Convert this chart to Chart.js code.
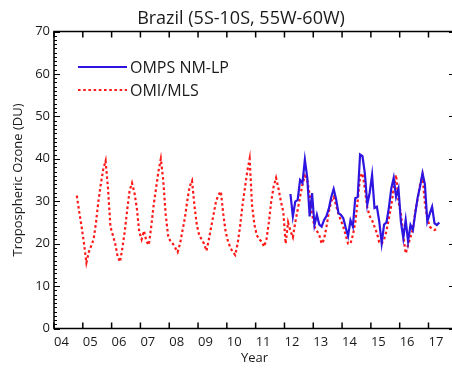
<!DOCTYPE html>
<html lang="en">
<head>
<meta charset="UTF-8">
<title>Brazil tropospheric ozone</title>
<script src="https://cdn.jsdelivr.net/npm/chart.js"></script>
<style>
  html, body { margin: 0; padding: 0; background: #fff; overflow: hidden; }
  #wrap { width: 458px; height: 370px; }
</style>
</head>
<body>
<div id="wrap"><canvas id="ozoneChart" width="458" height="370"></canvas></div>
<script>
const chartTitle = 'Brazil (5S-10S, 55W-60W)';
const yearTicks = [2004, 2005, 2006, 2007, 2008, 2009, 2010, 2011, 2012, 2013, 2014, 2015, 2016, 2017];
const yearLabels = ['04', '05', '06', '07', '08', '09', '10', '11', '12', '13', '14', '15', '16', '17'];

// OMI/MLS monthly means, Oct 2004 .. Apr 2017 (DU)
const mls2004 = [31.3, 27.5, 24];
const mls2005 = [20, 15.5, 18, 19.5, 21, 25, 30, 34, 37.5, 39.5, 33, 24];
const mls2006 = [22, 20, 17, 15.7, 19, 23, 28, 32.5, 34.3, 32, 28.4, 22.8];
const mls2007 = [21, 23, 20.5, 19.7, 24, 29, 33, 37, 40, 35, 27, 22];
const mls2008 = [20.5, 20, 19, 18, 20, 23, 26, 30, 33.5, 34.8, 29, 24.4];
const mls2009 = [22, 21, 20, 18.3, 21, 24, 27, 30, 31.5, 32.3, 27, 22.8];
const mls2010 = [20.5, 19, 18, 17.3, 20, 24, 29, 33, 37, 40, 29, 24.4];
const mls2011 = [22, 21, 20.5, 19.3, 21, 25, 30, 33.5, 35.5, 33, 30, 27.6];
const mls2012 = [20, 25, 23, 21.5, 25, 28, 31, 34, 36, 35, 31.5, 27];
const mls2013 = [24, 23, 22, 20, 21, 24, 27.5, 30, 31, 29, 27, 25.5];
const mls2014 = [24, 22, 20, 20, 22, 25, 30, 35.8, 36.6, 33, 28.5, 26.5];
const mls2015 = [25.5, 24, 22.5, 20.3, 20, 21, 23, 26, 29, 33, 36.2, 30];
const mls2016 = [27, 22, 17.7, 19.7, 21.5, 23.5, 27.6, 30.7, 34, 36, 29.5, 26];
const mls2017 = [24, 23.5, 23.2, 23.5];

// OMPS NM-LP monthly means, Mar 2012 .. May 2017 (DU)
const omps2012 = [31.7, 26.4, 29.9, 30.3, 35, 34.3, 39.8, 35.5, 26.4, 31.9];
const omps2013 = [24.4, 26.8, 24.5, 24, 25.6, 26.5, 28.3, 31, 32.9, 30.5, 27.2, 26.8];
const omps2014 = [26, 23.8, 21.8, 25.5, 24, 30.7, 31, 41, 40.6, 36.5, 29.2, 32];
const omps2015 = [36.2, 28.4, 28.7, 25.2, 20.1, 24.5, 25, 28.5, 33, 35.5, 31, 33];
const omps2016 = [25.2, 21.3, 25.6, 20.5, 24.4, 23.2, 27.2, 30.9, 33.5, 36.6, 34, 25.2];
const omps2017 = [27, 28.7, 24.8, 24.4, 25];

// month index -> decimal year (mid-month)
function monthly(year, month, values) {
    return values.map((v, i) => ({ x: year + (month - 0.5 + i) / 12, y: v }));
}

const mlsData = [
    ...monthly(2004, 10, mls2004), ...monthly(2005, 1, mls2005), ...monthly(2006, 1, mls2006),
    ...monthly(2007, 1, mls2007), ...monthly(2008, 1, mls2008), ...monthly(2009, 1, mls2009),
    ...monthly(2010, 1, mls2010), ...monthly(2011, 1, mls2011), ...monthly(2012, 1, mls2012),
    ...monthly(2013, 1, mls2013), ...monthly(2014, 1, mls2014), ...monthly(2015, 1, mls2015),
    ...monthly(2016, 1, mls2016), ...monthly(2017, 1, mls2017)
];
const ompsData = [
    ...monthly(2012, 3, omps2012), ...monthly(2013, 1, omps2013), ...monthly(2014, 1, omps2014),
    ...monthly(2015, 1, omps2015), ...monthly(2016, 1, omps2016), ...monthly(2017, 1, omps2017)
];

const FONT = "'Open Sans', 'DejaVu Sans', sans-serif";

// box, inward ticks, title and legend like the original IDL plot
const framePlugin = {
    id: 'framePlugin',
    afterDatasetsDraw(chart) {
        const { ctx, chartArea: a, scales: { x, y } } = chart;
        ctx.save();
        ctx.strokeStyle = '#000';
        ctx.lineWidth = 1.5;
        ctx.strokeRect(a.left, a.top, a.right - a.left, a.bottom - a.top);

        ctx.beginPath();
        for (let v = 0; v <= 70; v++) {
            const py = Math.round(y.getPixelForValue(v)) + 0.5;
            const len = v % 10 === 0 ? 6 : 3;
            ctx.moveTo(a.left, py); ctx.lineTo(a.left + len, py);
            ctx.moveTo(a.right, py); ctx.lineTo(a.right - len, py);
        }
        ctx.lineWidth = 1;
        ctx.stroke();

        ctx.beginPath();
        yearTicks.forEach(yr => {
            const px = x.getPixelForValue(yr);
            ctx.moveTo(px, a.bottom); ctx.lineTo(px, a.bottom - 6);
            ctx.moveTo(px, a.top); ctx.lineTo(px, a.top + 6);
        });
        ctx.lineWidth = 1.5;
        ctx.stroke();

        // title
        ctx.fillStyle = '#1a1a1a';
        ctx.font = '18px ' + FONT;
        ctx.textAlign = 'center';
        ctx.textBaseline = 'alphabetic';
        ctx.fillText(chartTitle, 241, 24);

        // legend
        ctx.font = '16px ' + FONT;
        ctx.textAlign = 'left';
        chart.data.datasets.forEach((ds, i) => {
            const ly = 67 + i * 23;
            ctx.beginPath();
            ctx.strokeStyle = ds.borderColor;
            ctx.lineWidth = ds.borderWidth;
            ctx.setLineDash(ds.borderDash || []);
            ctx.moveTo(78, ly);
            ctx.lineTo(127, ly);
            ctx.stroke();
            ctx.setLineDash([]);
            ctx.fillText(ds.label, 130, ly + 6);
        });
        ctx.restore();
    }
};

new Chart(document.getElementById('ozoneChart'), {
    type: 'line',
    data: {
        datasets: [{
            label: 'OMPS NM-LP',
            data: ompsData,
            borderColor: 'rgb(45, 20, 225)',
            borderWidth: 2.2,
            pointRadius: 0,
            fill: false,
            tension: 0
        }, {
            label: 'OMI/MLS',
            data: mlsData,
            borderColor: 'rgb(255, 25, 25)',
            borderWidth: 2.2,
            borderDash: [2.6, 2.6],
            pointRadius: 0,
            fill: false,
            tension: 0
        }]
    },
    plugins: [framePlugin],
    options: {
        responsive: false,
        animation: false,
        layout: { padding: { top: 31.5, right: 3, left: 0, bottom: 0 } },
        plugins: { legend: { display: false }, tooltip: { enabled: false }, title: { display: false } },
        scales: {
            x: {
                type: 'linear',
                min: 2004,
                max: 2017.92,
                grid: { display: false, drawTicks: false },
                border: { display: false },
                afterBuildTicks: scale => { scale.ticks = yearTicks.map(v => ({ value: v })); },
                afterFit: scale => { scale.height = 41.5; },
                ticks: {
                    autoSkip: false,
                    maxRotation: 0,
                    align: 'start',
                    padding: 6,
                    color: '#1a1a1a',
                    font: { family: FONT, size: 13 },
                    callback: (v, i) => yearLabels[i]
                },
                title: {
                    display: true,
                    text: 'Year',
                    color: '#1a1a1a',
                    font: { family: FONT, size: 13 },
                    padding: { top: 0, bottom: 4 }
                }
            },
            y: {
                min: 0,
                max: 70,
                grid: { display: false, drawTicks: false },
                border: { display: false },
                afterFit: scale => { scale.width = 54; },
                ticks: {
                    stepSize: 10,
                    padding: 4,
                    color: '#1a1a1a',
                    font: { family: FONT, size: 13 }
                },
                title: {
                    display: true,
                    text: 'Tropospheric Ozone (DU)',
                    color: '#1a1a1a',
                    font: { family: FONT, size: 13 },
                    padding: { top: 10, bottom: 0 }
                }
            }
        }
    }
});
</script>
</body>
</html>
